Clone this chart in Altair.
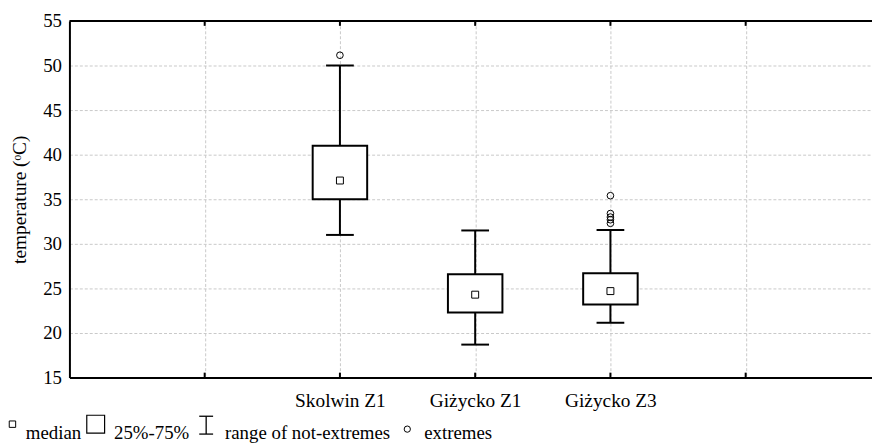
import altair as alt
import pandas as pd

# ---- data ----
sites = ["Skolwin Z1", "Giżycko Z1", "Giżycko Z3"]
whisker_low = [31.0, 18.7, 21.15]
q1 = [35.0, 22.3, 23.2]
median = [37.1, 24.3, 24.7]
q3 = [41.0, 26.6, 26.7]
whisker_high = [50.0, 31.5, 31.55]
outlier_sites = ["Skolwin Z1", "Giżycko Z3", "Giżycko Z3", "Giżycko Z3", "Giżycko Z3", "Giżycko Z3"]
outlier_values = [51.15, 35.4, 33.4, 33.0, 32.7, 32.3]
x_slots = ["", " "] + sites + ["  ", "   "]
y_ticks = [15, 20, 25, 30, 35, 40, 45, 50, 55]

FONT = "'Liberation Serif', 'Times New Roman', Times, serif"

box_df = pd.DataFrame({"site": sites, "lo": whisker_low, "q1": q1,
                       "med": median, "q3": q3, "hi": whisker_high})
out_df = pd.DataFrame({"site": outlier_sites, "val": outlier_values})
tick_df = pd.DataFrame({"site": x_slots[1:6]})
one = pd.DataFrame({"k": [0]})

x_enc = alt.X(
    "site:N",
    scale=alt.Scale(type="point", domain=x_slots, range=[0, 819], padding=0),
    axis=alt.Axis(title=None, grid=True, ticks=False, labelAngle=0, labelPadding=14,
                  labelFontSize=19.5, labelFont=FONT, labelColor="black",
                  domainColor="black", domainWidth=2,
                  gridColor="#c8c8c8", gridDash=[3, 2], gridWidth=1),
)
y_scale = alt.Scale(domain=[15, 55], nice=False, zero=False)
y_axis = alt.Axis(values=y_ticks, title="temperature (ᵒC)", ticks=False,
                  labelPadding=8, labelFontSize=19, labelFont=FONT, labelColor="black",
                  titleFont=FONT, titleFontSize=19.5, titleFontWeight="normal",
                  titleColor="black", titlePadding=13,
                  domainColor="black", domainWidth=2,
                  gridColor="#c8c8c8", gridDash=[3, 2], gridWidth=1)


def Y(field):
    return alt.Y(field, scale=y_scale, axis=y_axis)


base = alt.Chart(box_df)
whisker = base.mark_rule(color="black", strokeWidth=2).encode(x=x_enc, y=Y("lo:Q"), y2="hi:Q")
box = base.mark_bar(size=55, fill="white", stroke="black", strokeWidth=2, opacity=1).encode(
    x=x_enc, y=Y("q1:Q"), y2="q3:Q")
cap_lo = base.mark_tick(size=28, thickness=2, color="black", opacity=1).encode(x=x_enc, y=Y("lo:Q"))
cap_hi = base.mark_tick(size=28, thickness=2, color="black", opacity=1).encode(x=x_enc, y=Y("hi:Q"))
med = base.mark_point(shape="square", size=49, filled=False, color="black",
                      strokeWidth=1, opacity=1).encode(x=x_enc, y=Y("med:Q"))
outl = alt.Chart(out_df).mark_point(shape="circle", size=45, filled=False, color="black",
                                    strokeWidth=1, opacity=1).encode(x=x_enc, y=Y("val:Q"))

# inward ticks on bottom and top frame
tick_b = alt.Chart(tick_df).mark_rule(color="black", strokeWidth=2).encode(
    x=x_enc, y=alt.value(355), y2=alt.value(360))
tick_t = alt.Chart(tick_df).mark_rule(color="black", strokeWidth=2).encode(
    x=x_enc, y=alt.value(0), y2=alt.value(5))
top_border = alt.Chart(one).mark_rule(color="black", strokeWidth=2).encode(
    x=alt.value(0), x2=alt.value(830), y=alt.value(0))

# legend at bottom
def ltext(txt, px):
    return alt.Chart(one).mark_text(font=FONT, fontSize=19, align="left",
                                    baseline="alphabetic", color="black").encode(
        x=alt.value(px), y=alt.value(422), text=alt.value(txt))

leg_sq_small = alt.Chart(one).mark_point(shape="square", size=42, filled=False, color="black",
                                         strokeWidth=1, opacity=1).encode(
    x=alt.value(-57.5), y=alt.value(407))
leg_sq_big = alt.Chart(one).mark_point(shape="square", size=324, filled=False, color="black",
                                       strokeWidth=1.2, opacity=1).encode(
    x=alt.value(26.5), y=alt.value(407))
ib_v = alt.Chart(one).mark_rule(color="black", strokeWidth=1.3).encode(
    x=alt.value(138), y=alt.value(399), y2=alt.value(417))
ib_t = alt.Chart(one).mark_rule(color="black", strokeWidth=1.3).encode(
    x=alt.value(131), x2=alt.value(145), y=alt.value(399))
ib_b = alt.Chart(one).mark_rule(color="black", strokeWidth=1.3).encode(
    x=alt.value(131), x2=alt.value(145), y=alt.value(417))
leg_circ = alt.Chart(one).mark_point(shape="circle", size=40, filled=False, color="black",
                                     strokeWidth=1, opacity=1).encode(
    x=alt.value(341), y=alt.value(412))

chart = alt.layer(
    whisker, box, cap_lo, cap_hi, med, outl, tick_b, tick_t, top_border,
    leg_sq_small, ltext("median", -44), leg_sq_big, ltext("25%-75%", 45),
    ib_v, ib_t, ib_b, ltext("range of not-extremes", 157),
    leg_circ, ltext("extremes", 358),
).properties(
    width=810, height=360,
    padding={"left": 62, "top": 11, "right": 0, "bottom": 66},
    autosize=alt.AutoSizeParams(type="none"),
    background="white",
).configure_view(stroke=None)

chart.save("out.html", embed_options={"renderer": "svg", "actions": False})
